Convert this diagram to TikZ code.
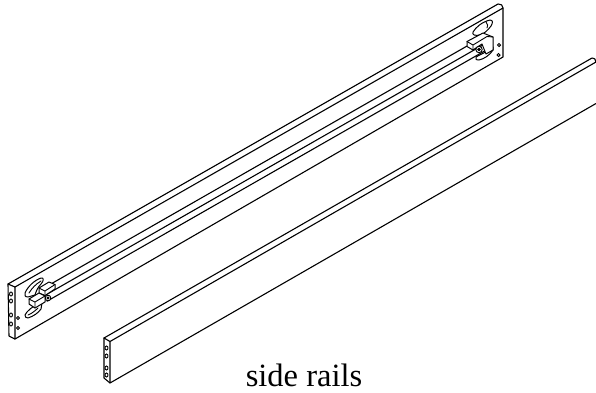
\documentclass[tikz,border=0pt]{standalone}
\usepackage{fontspec}
\setmainfont{Liberation Serif}
\tikzset{
  rail/.style={line width=1.1pt,line join=round,line cap=round},
  fine/.style={line width=0.9pt,line join=round,line cap=round},
  hole/.style={line width=0.9pt,fill=white},
  blockface/.style={line width=1pt,line join=round,fill=white},
  caption/.style={font=\fontsize{32.5}{36}\selectfont,inner sep=0pt}
}
\begin{document}
\begin{tikzpicture}[x=1pt,y=-1pt]
\useasboundingbox (0,0) rectangle (596,392);
% rear rail
\draw[rail] (8,284) -- (498,4) .. controls (501,4) and (503,5) .. (503,8) -- (503,57) -- (15,339) -- (9,336) -- cycle;
\draw[rail] (8,284) -- (15,287) -- (15,339);
\draw[rail] (15,287) -- (503,8);
\draw[rail] (47,286.2) -- (480,38.6);
\draw[rail] (47,294.2) -- (490,40.9);
\draw[rail] (47,301.2) -- (490,47.9);
% left slots
\draw[blockface] (25,293) .. controls (28,286) and (35,280) .. (41,278) .. controls (44,277) and (44,281) .. (41,284) .. controls (37,288) and (36,292) .. (35,295) -- (28,297) .. controls (25,297) and (24,295) .. (25,293) -- cycle;
\draw[fine] (29,293) .. controls (32,288) and (36,284) .. (41,281);
\draw[blockface] (25,315) .. controls (27,311) and (32,306) .. (42,303) -- (41,309) .. controls (38,313) and (34,316) .. (28,318) .. controls (26,318) and (25,317) .. (25,315) -- cycle;
\draw[fine] (28,315) .. controls (31,314) and (35,311) .. (38,308);
\draw[blockface] (39,288) -- (49,282) -- (55,284.5) -- (55,289) -- (45,295.5) -- (39,293) -- cycle;
\draw[fine] (39,288) -- (45,291) -- (55,284.5) (45,291) -- (45,295.5);
\draw[blockface] (29,299) -- (39,293) -- (45,296) -- (45,302) -- (35,308) -- (29,304) -- cycle;
\draw[fine] (29,299) -- (35,302) -- (45,296) (35,302) -- (35,308);
\draw[hole] (48,298) circle (2.8);
\draw[hole,fill=black] (48,298) circle (1.1);
% right slots
\draw[blockface] (473,32) .. controls (476,27) and (482,22) .. (490,20) .. controls (493,20) and (493,23) .. (491,26) .. controls (488,30) and (484,34) .. (480,35) .. controls (475,36) and (472,35) .. (473,32) -- cycle;
\draw[fine] (486,22) .. controls (488,24) and (488,26) .. (487,28);
\draw[blockface] (476,57) .. controls (481,54) and (487,52) .. (493,47) -- (493,50) .. controls (490,55) and (484,59) .. (479,60) .. controls (476,60) and (475,59) .. (476,57) -- cycle;
\draw[blockface] (467,41.5) -- (483,33) -- (493,37) -- (493,50) -- (486,54) -- (482,44) -- (473,50) -- (467,46.5) -- cycle;
\draw[fine] (467,41.5) -- (473,45) -- (487,36.5) -- (493,37) (473,45) -- (473,50);
\draw[hole] (479,49.5) circle (3.2);
\draw[hole,fill=black] (479,49.5) circle (1.3);
% rear holes
\foreach \y in {294,301,315,324}{\draw[hole] (11,\y) ellipse (1.5 and 2);}
\foreach \p in {(18,318),(18,328),(499,45),(498.5,55)}{\draw[hole] \p circle (1.6);}
% front rail
\draw[rail] (104,338) -- (592,58) .. controls (594,57.5) and (596,59.5) .. (596,62) -- (110,341.5) -- (110,383) -- (596,103.5);
\draw[rail] (104,338) -- (110,341.5);
\draw[rail] (104,338) -- (104,378) -- (110,383);
\foreach \y in {348,356,368,375}{\draw[hole] (106.5,\y) ellipse (1.5 and 2);}
\node[caption,anchor=base] (cap) at (304,386) {side rails};
\end{tikzpicture}
\end{document}
